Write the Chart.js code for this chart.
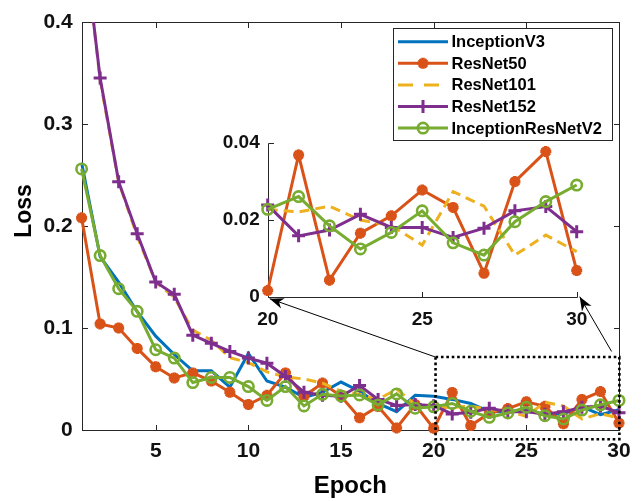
<!DOCTYPE html>
<html><head><meta charset="utf-8">
<script src="https://cdn.jsdelivr.net/npm/chart.js@4.4.1/dist/chart.umd.min.js"></script>
<style>
html,body{margin:0;padding:0;background:#fff;}
#wrap{position:relative;width:643px;height:501px;overflow:hidden;}
#wrap canvas{position:absolute;left:0;top:0;}
</style></head><body>
<div id="wrap"><canvas id="main" width="643" height="501"></canvas><canvas id="inset" width="643" height="501"></canvas></div>
<script>
// ---------- data ----------
const epochs = [1,2,3,4,5,6,7,8,9,10,11,12,13,14,15,16,17,18,19,20,21,22,23,24,25,26,27,28,29,30];
const seriesNames = ['InceptionV3','ResNet50','ResNet101','ResNet152','InceptionResNetV2'];
const inceptionV3 = [0.262,0.170,0.145,0.116,0.092,0.074,0.058,0.058,0.042,0.075,0.048,0.042,0.032,0.037,0.047,0.038,0.026,0.018,0.034,0.033,0.030,0.026,0.018,0.018,0.020,0.015,0.016,0.023,0.015,0.020];
const resNet50 = [0.208,0.104,0.100,0.080,0.062,0.051,0.056,0.048,0.037,0.025,0.034,0.056,0.033,0.046,0.033,0.012,0.023,0.002,0.025,0.0016,0.0368,0.0043,0.0165,0.021,0.0277,0.0232,0.0061,0.0299,0.0377,0.0068];
const resNet101 = [0.50,0.343,0.243,0.190,0.145,0.130,0.098,0.088,0.071,0.066,0.057,0.052,0.050,0.046,0.038,0.035,0.030,0.040,0.025,0.0227,0.022,0.0235,0.0199,0.0185,0.0134,0.0273,0.0235,0.0108,0.016,0.0117];
const resNet152 = [0.50,0.345,0.2435,0.1924,0.145,0.133,0.093,0.085,0.077,0.0705,0.0655,0.0525,0.037,0.034,0.033,0.0436,0.030,0.024,0.025,0.0238,0.0158,0.0173,0.0214,0.018,0.018,0.0154,0.0178,0.0223,0.0234,0.0169];
const inceptionResNetV2 = [0.256,0.171,0.1386,0.1163,0.0787,0.0705,0.0465,0.0515,0.0515,0.0426,0.029,0.0426,0.0236,0.035,0.0334,0.0344,0.0246,0.0354,0.0213,0.0227,0.026,0.0184,0.0124,0.0167,0.0223,0.014,0.0108,0.0195,0.0247,0.029];
const xTicks = [5,10,15,20,25,30];
const yTicks = [0,0.1,0.2,0.3,0.4];
const yTickLabels = ['0','0.1','0.2','0.3','0.4'];
const insetXTicks = [20,25,30];
const insetYTicks = [0,0.02,0.04];
const insetYTickLabels = ['0','0.02','0.04'];
const insetStart = 20; // first epoch shown in the zoomed inset

// ---------- style ----------
const FONT = "'Liberation Sans', Arial, Helvetica, sans-serif";
const AXIS = '#262626';
const LABEL = '#111';
const C = {blue:'#0072BD', orange:'#D95319', yellow:'#EDB120', purple:'#7E2F8E', green:'#77AC30'};
Chart.defaults.font.family = FONT;
Chart.defaults.color = LABEL;

const seriesValues = [inceptionV3, resNet50, resNet101, resNet152, inceptionResNetV2];
const seriesStyle = [
  {color:C.blue,   pointStyle:'circle', radius:0,   bw:0,   dash:[], order:5},
  {color:C.orange, pointStyle:'star',   radius:5.5, bw:3.6, dash:[], order:4},
  {color:C.yellow, pointStyle:'circle', radius:0,   bw:0,   dash:[10,6], order:3},
  {color:C.purple, pointStyle:'cross',  radius:6.5, bw:3,   dash:[], order:2},
  {color:C.green,  pointStyle:'circle', radius:5.2, bw:2.6, dash:[], order:1}
];

function makeDataset(i, fromEpoch) {
  const s = seriesStyle[i];
  const pts = [];
  epochs.forEach((e, k) => { if (e >= fromEpoch) pts.push({x:e, y:seriesValues[i][k]}); });
  return {
    label: seriesNames[i], data: pts, order: s.order,
    borderColor: s.color, backgroundColor: 'rgba(0,0,0,0)', borderWidth: 3, borderDash: s.dash,
    pointStyle: s.pointStyle, pointRadius: s.radius, pointBorderWidth: s.bw,
    pointBorderColor: s.color, pointBackgroundColor: s.pointStyle === 'circle' ? 'rgba(0,0,0,0)' : s.color,
    tension: 0, fill: false, clip: {left: 12, right: 12, top: 0, bottom: 12}
  };
}

function drawLegend(ctx) {
  const box = {l:393.5, t:28.5, r:612.5, b:140.5};
  ctx.save();
  ctx.fillStyle = '#fff';
  ctx.fillRect(box.l, box.t, box.r-box.l, box.b-box.t);
  ctx.strokeStyle = AXIS; ctx.lineWidth = 1;
  ctx.strokeRect(box.l, box.t, box.r-box.l, box.b-box.t);
  seriesNames.forEach((name, i) => {
    const s = seriesStyle[i];
    const y = 41.7 + i*21.6;
    ctx.strokeStyle = s.color; ctx.lineWidth = 3; ctx.setLineDash(s.dash.length ? [15,11] : []);
    ctx.beginPath(); ctx.moveTo(398, y); ctx.lineTo(448, y); ctx.stroke();
    ctx.setLineDash([]);
    if (s.radius > 0) {
      ctx.fillStyle = s.pointStyle === 'circle' ? 'rgba(0,0,0,0)' : s.color;
      ctx.strokeStyle = s.color; ctx.lineWidth = s.bw;
      Chart.helpers.drawPoint(ctx, {pointStyle:s.pointStyle, radius:s.radius, rotation:0, borderWidth:s.bw}, 423, y);
    }
    ctx.fillStyle = '#000'; ctx.font = 'bold 16.5px ' + FONT;
    ctx.textAlign = 'left'; ctx.textBaseline = 'middle';
    ctx.fillText(name, 451.5, y + 1);
  });
  ctx.restore();
}

const mainDecor = {
  id: 'mainDecor',
  beforeDatasetsDraw(chart) {
    const {ctx, chartArea: a, scales: {x, y}} = chart;
    ctx.save();
    ctx.strokeStyle = AXIS; ctx.lineWidth = 1;
    const L = Math.round(a.left)+0.5, R = Math.round(a.right)+0.5, T = Math.round(a.top)+0.5, B = Math.round(a.bottom)+0.5;
    ctx.strokeRect(L, T, R-L, B-T);
    const tl = 5.5;
    ctx.beginPath();
    x.ticks.forEach(t => {
      const px = Math.round(x.getPixelForValue(t.value))+0.5;
      ctx.moveTo(px, B); ctx.lineTo(px, B-tl);
      ctx.moveTo(px, T); ctx.lineTo(px, T+tl);
    });
    y.ticks.forEach(t => {
      const py = Math.round(y.getPixelForValue(t.value))+0.5;
      ctx.moveTo(L, py); ctx.lineTo(L+tl, py);
      ctx.moveTo(R, py); ctx.lineTo(R-tl, py);
    });
    ctx.stroke();
    ctx.restore();
  },
  afterDraw(chart) {
    const ctx = chart.ctx;
    drawLegend(ctx);
    ctx.save();
    ctx.fillStyle = '#000';
    ctx.font = 'bold 23px ' + FONT;
    ctx.translate(25, 211); ctx.rotate(-Math.PI/2);
    ctx.textAlign = 'center'; ctx.textBaseline = 'middle';
    ctx.fillText('Loss', 0, 0);
    ctx.restore();
  }
};

const mainChart = new Chart(document.getElementById('main'), {
  type: 'line',
  data: { datasets: seriesNames.map((n, i) => makeDataset(i, 1)) },
  options: {
    responsive: false, animation: false, events: [],
    layout: { padding: {left: 0, top: 22, right: 24, bottom: 0} },
    plugins: { legend: {display: false}, tooltip: {enabled: false} },
    scales: {
      x: {
        type: 'linear', min: 1, max: 30,
        afterBuildTicks: s => { s.ticks = xTicks.map(v => ({value: v})); },
        afterFit: s => { s.height = 71; },
        grid: {display: false, drawTicks: false}, border: {display: false},
        ticks: {font: {size: 21, weight: 'bold'}, color: LABEL, padding: 9, maxRotation: 0, autoSkip: false,
                callback: v => String(v)},
        title: {display: true, text: 'Epoch', color: '#000', font: {size: 24, weight: 'bold'}, padding: {top: 0, bottom: 0}}
      },
      y: {
        type: 'linear', min: 0, max: 0.4,
        afterBuildTicks: s => { s.ticks = yTicks.map(v => ({value: v})); },
        afterFit: s => { s.width = 81.6; },
        grid: {display: false, drawTicks: false}, border: {display: false},
        ticks: {font: {size: 21, weight: 'bold'}, color: LABEL, padding: 9,
                callback: v => { const k = yTicks.findIndex(t => Math.abs(t - v) < 1e-9); return k >= 0 ? yTickLabels[k] : ''; }}
      }
    }
  },
  plugins: [mainDecor]
});

// zoom box (main-chart data coords) and arrow tails
const ZOOM_BOX = {x0: 20.1, x1: 30.02, y0: -0.009, y1: 0.0715};
const ARROW_TAILS = [{x: 20.1, y: 0.0715}, {x: 29.6, y: 0.077}];

function arrowHead(ctx, tx, ty, fx, fy, L, W) {
  const dx = tx - fx, dy = ty - fy, len = Math.hypot(dx, dy);
  const ux = dx/len, uy = dy/len, nx = -uy, ny = ux;
  const bx = tx - L*ux, by = ty - L*uy;
  ctx.beginPath();
  ctx.moveTo(tx, ty);
  ctx.lineTo(bx + nx*W/2, by + ny*W/2);
  ctx.lineTo(tx - 0.7*L*ux, ty - 0.7*L*uy);
  ctx.lineTo(bx - nx*W/2, by - ny*W/2);
  ctx.closePath();
  ctx.fill();
}

const insetDecor = {
  id: 'insetDecor',
  beforeDatasetsDraw(chart) {
    const {ctx, chartArea: a, scales: {x, y}} = chart;
    ctx.save();
    ctx.strokeStyle = AXIS; ctx.lineWidth = 1;
    const L = Math.round(a.left)+0.5, B = Math.round(a.bottom)+0.5, T = Math.round(a.top)+0.5, R = Math.round(a.right)+0.5;
    ctx.beginPath();
    ctx.moveTo(L, T); ctx.lineTo(L, B); ctx.lineTo(R, B);
    const tl = 5.5;
    x.ticks.forEach(t => { const px = Math.round(x.getPixelForValue(t.value))+0.5; ctx.moveTo(px, B); ctx.lineTo(px, B-tl); });
    y.ticks.forEach(t => { const py = Math.round(y.getPixelForValue(t.value))+0.5; ctx.moveTo(L, py); ctx.lineTo(L+tl, py); });
    ctx.stroke();
    ctx.restore();
  },
  afterDraw(chart) {
    const ctx = chart.ctx;
    const mx = mainChart.scales.x, my = mainChart.scales.y;
    const a = chart.chartArea;
    ctx.save();
    // dotted zoom box on main chart
    const x0 = mx.getPixelForValue(ZOOM_BOX.x0), x1 = mx.getPixelForValue(ZOOM_BOX.x1);
    const y0 = my.getPixelForValue(ZOOM_BOX.y0), y1 = my.getPixelForValue(ZOOM_BOX.y1);
    ctx.strokeStyle = '#000'; ctx.lineWidth = 2.6; ctx.setLineDash([2.6, 2.8]);
    ctx.strokeRect(x0, y1, x1 - x0, y0 - y1);
    ctx.setLineDash([]);
    // arrows to inset corners
    const tips = [{x: a.left + 2, y: a.bottom + 2}, {x: a.right + 3, y: a.bottom}];
    ctx.lineWidth = 1; ctx.fillStyle = '#000';
    ARROW_TAILS.forEach((t, i) => {
      const fx = mx.getPixelForValue(t.x), fy = my.getPixelForValue(t.y);
      const tip = tips[i];
      ctx.beginPath(); ctx.moveTo(fx, fy); ctx.lineTo(tip.x, tip.y); ctx.stroke();
      arrowHead(ctx, tip.x, tip.y, fx, fy, 14, 11);
    });
    ctx.restore();
  }
};

const insetChart = new Chart(document.getElementById('inset'), {
  type: 'line',
  data: { datasets: [1,2,3,4].map(i => makeDataset(i, insetStart)) },
  options: {
    responsive: false, animation: false, events: [],
    layout: { padding: {left: 0, top: 142.7, right: 66.3, bottom: 0} },
    plugins: { legend: {display: false}, tooltip: {enabled: false} },
    scales: {
      x: {
        type: 'linear', min: 20, max: 30,
        afterBuildTicks: s => { s.ticks = insetXTicks.map(v => ({value: v})); },
        afterFit: s => { s.height = 501 - 296.7; },
        grid: {display: false, drawTicks: false}, border: {display: false},
        ticks: {font: {size: 19, weight: 'bold'}, color: LABEL, padding: 11.5, maxRotation: 0, autoSkip: false,
                callback: v => String(v)}
      },
      y: {
        type: 'linear', min: 0, max: 0.04,
        afterBuildTicks: s => { s.ticks = insetYTicks.map(v => ({value: v})); },
        afterFit: s => { s.width = 267.7; },
        grid: {display: false, drawTicks: false}, border: {display: false},
        ticks: {font: {size: 19, weight: 'bold'}, color: LABEL, padding: 8,
                callback: v => { const k = insetYTicks.findIndex(t => Math.abs(t - v) < 1e-9); return k >= 0 ? insetYTickLabels[k] : ''; }}
      }
    }
  },
  plugins: [insetDecor]
});
</script>
</body></html>
